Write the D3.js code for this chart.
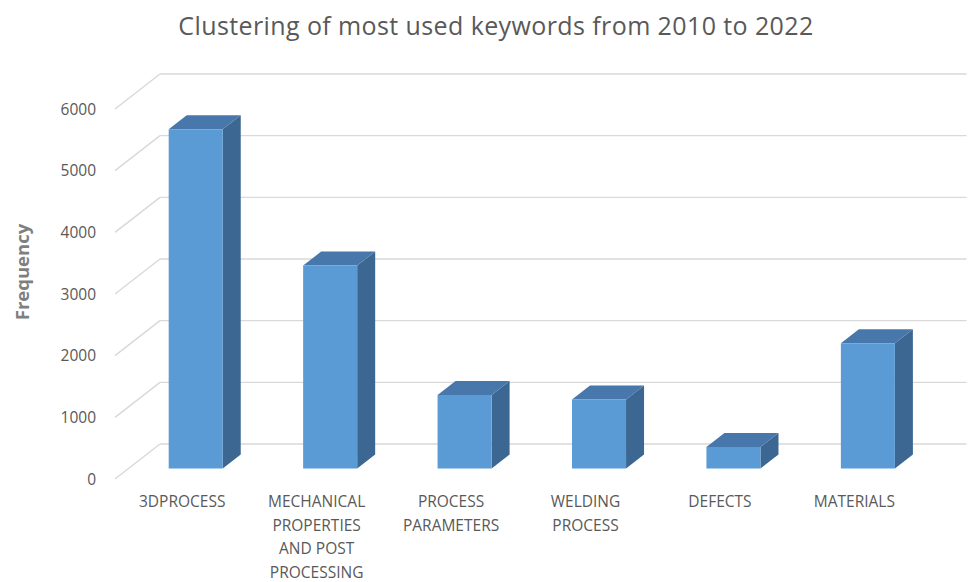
<!DOCTYPE html>
<html>
<head>
<meta charset="utf-8">
<script src="https://cdn.jsdelivr.net/npm/d3@7"></script>
<style>
  html, body { margin: 0; padding: 0; background: #ffffff; }
  svg { display: block; }
</style>
</head>
<body>
<svg id="chart" width="969" height="582"></svg>
<script>
// Keyword clusters and their frequencies
const categories = [
  "3DPROCESS",
  "MECHANICAL\nPROPERTIES\nAND POST\nPROCESSING",
  "PROCESS\nPARAMETERS",
  "WELDING\nPROCESS",
  "DEFECTS",
  "MATERIALS"
];
const frequencies = [5500, 3290, 1190, 1120, 350, 2030];
const yTicks = [0, 1000, 2000, 3000, 4000, 5000, 6000];
const titleText = "Clustering of most used keywords from 2010 to 2022";
const yAxisTitle = "Frequency";

const svg = d3.select("#chart");

// Front plane of the plot box; depth is drawn as an oblique offset
const frontLeft = 115, frontRight = 921.6;
const frontBottom = 479, frontTop = 109;
const depthDX = 45, depthDY = -35;     // offset from front plane to back wall
const barFront = 0.3, barBack = 0.7;   // bar depth as a fraction of the box depth

const x = d3.scaleBand()
  .domain(categories)
  .range([frontLeft, frontRight])
  .paddingInner(0.598)
  .paddingOuter(0.299);

const y = d3.scaleLinear()
  .domain([0, 6000])
  .range([frontBottom, frontTop]);

const project = (px, py, d) => [px + depthDX * d, py + depthDY * d];

const gridColor = "#d9d9d9";
const textColor = "#595959";

// Back wall gridlines and left wall diagonals
const grid = svg.append("g");
yTicks.forEach(t => {
  const [bx, by] = project(frontLeft, y(t), 1);
  const [ex] = project(frontRight, y(t), 1);
  grid.append("line")
    .attr("x1", bx).attr("y1", by).attr("x2", ex).attr("y2", by)
    .attr("stroke", gridColor).attr("stroke-width", 1.4);
  grid.append("line")
    .attr("x1", frontLeft).attr("y1", y(t)).attr("x2", bx).attr("y2", by)
    .attr("stroke", gridColor).attr("stroke-width", 1.4);
});

// Y axis tick labels on the front plane
svg.append("g")
  .selectAll("text")
  .data(yTicks)
  .join("text")
  .attr("x", 96)
  .attr("y", d => y(d) + 5.5)
  .attr("text-anchor", "end")
  .attr("font-family", "Open Sans, sans-serif")
  .attr("font-size", 15.5)
  .attr("fill", textColor)
  .text(d => d);

// 3D columns: side, top, front faces
const poly = pts => "M" + pts.map(p => p.join(",")).join("L") + "Z";
const bars = svg.append("g");
categories.forEach((c, i) => {
  const x0 = x(c), x1 = x(c) + x.bandwidth();
  const y0 = y(0), yv = y(frequencies[i]);
  const g = bars.append("g");
  g.append("path")
    .attr("d", poly([project(x1, y0, barFront), project(x1, y0, barBack),
                     project(x1, yv, barBack), project(x1, yv, barFront)]))
    .attr("fill", "#3b6792");
  g.append("path")
    .attr("d", poly([project(x0, yv, barFront), project(x1, yv, barFront),
                     project(x1, yv, barBack), project(x0, yv, barBack)]))
    .attr("fill", "#4777ab");
  g.append("path")
    .attr("d", poly([project(x0, y0, barFront), project(x1, y0, barFront),
                     project(x1, yv, barFront), project(x0, yv, barFront)]))
    .attr("fill", "#5b9bd5");
});

// Category labels, wrapped onto several lines
const labels = svg.append("g")
  .attr("font-family", "Open Sans, sans-serif")
  .attr("font-size", 15.5)
  .attr("fill", textColor)
  .attr("text-anchor", "middle");
categories.forEach(c => {
  const cx = x(c) + x.bandwidth() / 2;
  const t = labels.append("text").attr("x", cx).attr("y", 507);
  c.split("\n").forEach((line, j) => {
    t.append("tspan").attr("x", cx).attr("y", 507 + j * 23.7).text(line);
  });
});

// Chart title
svg.append("text")
  .attr("x", 496)
  .attr("y", 35)
  .attr("text-anchor", "middle")
  .attr("font-family", "Open Sans, sans-serif")
  .attr("font-size", 25)
  .attr("letter-spacing", 0.4)
  .attr("fill", textColor)
  .text(titleText);

// Y axis title
svg.append("text")
  .attr("transform", "translate(29,272) rotate(-90)")
  .attr("text-anchor", "middle")
  .attr("font-family", "Open Sans, sans-serif")
  .attr("font-weight", "bold")
  .attr("font-size", 18.5)
  .attr("fill", "#7f7f7f")
  .text(yAxisTitle);
</script>
</body>
</html>
